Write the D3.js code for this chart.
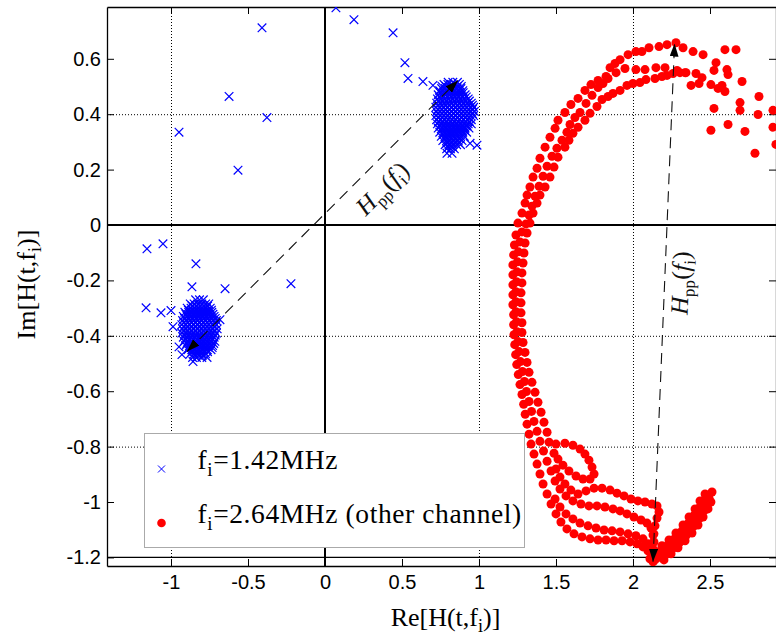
<!DOCTYPE html>
<html>
<head>
<meta charset="utf-8">
<script src="https://cdn.jsdelivr.net/npm/d3@7"></script>
<style>
  body { margin: 0; background: #fff; }
</style>
</head>
<body>
<div id="chart"></div>
<script>
// ticks and grid
const xTicks = [-1, -0.5, 0, 0.5, 1, 1.5, 2, 2.5];
const yTicks = [-1.2, -1, -0.8, -0.6, -0.4, -0.2, 0, 0.2, 0.4, 0.6];
const xGrid = [-1, 1, 2];
const yGrid = [-0.8, -0.4, 0.4];
const xRefLines = [0];
const yRefLines = [0, -1.2];

// f_i = 1.42 MHz : dense blobs, row by row [y, [x...]]
const blueLowRows = [
  [-0.27, [-0.84, -0.815, -0.79]],
  [-0.285, [-0.875, -0.85, -0.825, -0.8, -0.775, -0.755]],
  [-0.30, [-0.895, -0.87, -0.845, -0.82, -0.795, -0.77, -0.745]],
  [-0.315, [-0.91, -0.885, -0.86, -0.835, -0.81, -0.785, -0.76, -0.735]],
  [-0.33, [-0.92, -0.895, -0.87, -0.845, -0.82, -0.795, -0.77, -0.745, -0.72]],
  [-0.345, [-0.925, -0.9, -0.875, -0.85, -0.825, -0.8, -0.775, -0.75, -0.725, -0.705]],
  [-0.36, [-0.93, -0.905, -0.88, -0.855, -0.83, -0.805, -0.78, -0.755, -0.73, -0.705]],
  [-0.375, [-0.925, -0.9, -0.875, -0.85, -0.825, -0.8, -0.775, -0.75, -0.725, -0.7]],
  [-0.39, [-0.93, -0.905, -0.88, -0.855, -0.83, -0.805, -0.78, -0.755, -0.73, -0.705]],
  [-0.405, [-0.92, -0.895, -0.87, -0.845, -0.82, -0.795, -0.77, -0.745, -0.72]],
  [-0.42, [-0.915, -0.89, -0.865, -0.84, -0.815, -0.79, -0.765, -0.74, -0.715]],
  [-0.435, [-0.905, -0.88, -0.855, -0.83, -0.805, -0.78, -0.755, -0.73]],
  [-0.45, [-0.89, -0.865, -0.84, -0.815, -0.79, -0.765, -0.74]],
  [-0.465, [-0.875, -0.85, -0.825, -0.8, -0.775]],
  [-0.478, [-0.86, -0.835, -0.8]]
];
const blueLowMidRows = [
  [-0.2925, [-0.8625, -0.8375, -0.8125, -0.7875, -0.7625]],
  [-0.3075, [-0.8875, -0.8625, -0.8375, -0.8125, -0.7875, -0.7625, -0.7375]],
  [-0.3225, [-0.9025, -0.8775, -0.8525, -0.8275, -0.8025, -0.7775, -0.7525, -0.7275]],
  [-0.3375, [-0.9125, -0.8875, -0.8625, -0.8375, -0.8125, -0.7875, -0.7625, -0.7375, -0.7125]],
  [-0.3525, [-0.9175, -0.8925, -0.8675, -0.8425, -0.8175, -0.7925, -0.7675, -0.7425, -0.7175]],
  [-0.3675, [-0.9175, -0.8925, -0.8675, -0.8425, -0.8175, -0.7925, -0.7675, -0.7425, -0.7175]],
  [-0.3825, [-0.9175, -0.8925, -0.8675, -0.8425, -0.8175, -0.7925, -0.7675, -0.7425, -0.7175]],
  [-0.3975, [-0.9125, -0.8875, -0.8625, -0.8375, -0.8125, -0.7875, -0.7625, -0.7375, -0.7125]],
  [-0.4125, [-0.9075, -0.8825, -0.8575, -0.8325, -0.8075, -0.7825, -0.7575, -0.7325]],
  [-0.4275, [-0.8975, -0.8725, -0.8475, -0.8225, -0.7975, -0.7725, -0.7475, -0.7225]],
  [-0.4425, [-0.8825, -0.8575, -0.8325, -0.8075, -0.7825, -0.7575, -0.7325]],
  [-0.4575, [-0.8625, -0.8375, -0.8125, -0.7875, -0.7625]],
  [-0.4715, [-0.8475, -0.8225, -0.7975]]
];
const blueHighRows = [
  [0.515, [0.8, 0.83, 0.86]],
  [0.50, [0.76, 0.785, 0.81, 0.835, 0.86, 0.885]],
  [0.485, [0.745, 0.77, 0.795, 0.82, 0.845, 0.87, 0.895]],
  [0.47, [0.735, 0.76, 0.785, 0.81, 0.835, 0.86, 0.885, 0.91]],
  [0.455, [0.73, 0.755, 0.78, 0.805, 0.83, 0.855, 0.88, 0.905, 0.93]],
  [0.44, [0.725, 0.75, 0.775, 0.8, 0.825, 0.85, 0.875, 0.9, 0.925, 0.95]],
  [0.425, [0.72, 0.745, 0.77, 0.795, 0.82, 0.845, 0.87, 0.895, 0.92, 0.945, 0.965]],
  [0.41, [0.725, 0.75, 0.775, 0.8, 0.825, 0.85, 0.875, 0.9, 0.925, 0.95, 0.97]],
  [0.395, [0.72, 0.745, 0.77, 0.795, 0.82, 0.845, 0.87, 0.895, 0.92, 0.945, 0.965]],
  [0.38, [0.725, 0.75, 0.775, 0.8, 0.825, 0.85, 0.875, 0.9, 0.925, 0.95]],
  [0.365, [0.73, 0.755, 0.78, 0.805, 0.83, 0.855, 0.88, 0.905, 0.93, 0.95]],
  [0.35, [0.735, 0.76, 0.785, 0.81, 0.835, 0.86, 0.885, 0.91, 0.935]],
  [0.335, [0.745, 0.77, 0.795, 0.82, 0.845, 0.87, 0.895, 0.92]],
  [0.32, [0.755, 0.78, 0.805, 0.83, 0.855, 0.88, 0.905]],
  [0.305, [0.765, 0.79, 0.815, 0.84, 0.865, 0.89]],
  [0.29, [0.78, 0.805, 0.83, 0.855, 0.88]],
  [0.275, [0.79, 0.815, 0.84]]
];
const blueHighMidRows = [
  [0.5075, [0.7725, 0.7975, 0.8225, 0.8475, 0.8725]],
  [0.4925, [0.7575, 0.7825, 0.8075, 0.8325, 0.8575, 0.8825]],
  [0.4775, [0.7475, 0.7725, 0.7975, 0.8225, 0.8475, 0.8725, 0.8975]],
  [0.4625, [0.7425, 0.7675, 0.7925, 0.8175, 0.8425, 0.8675, 0.8925, 0.9175]],
  [0.4475, [0.7375, 0.7625, 0.7875, 0.8125, 0.8375, 0.8625, 0.8875, 0.9125, 0.9375]],
  [0.4325, [0.7325, 0.7575, 0.7825, 0.8075, 0.8325, 0.8575, 0.8825, 0.9075, 0.9325, 0.9575]],
  [0.4175, [0.7325, 0.7575, 0.7825, 0.8075, 0.8325, 0.8575, 0.8825, 0.9075, 0.9325, 0.9575]],
  [0.4025, [0.7325, 0.7575, 0.7825, 0.8075, 0.8325, 0.8575, 0.8825, 0.9075, 0.9325, 0.9575]],
  [0.3875, [0.7375, 0.7625, 0.7875, 0.8125, 0.8375, 0.8625, 0.8875, 0.9125, 0.9375]],
  [0.3725, [0.7375, 0.7625, 0.7875, 0.8125, 0.8375, 0.8625, 0.8875, 0.9125, 0.9375]],
  [0.3575, [0.7475, 0.7725, 0.7975, 0.8225, 0.8475, 0.8725, 0.8975, 0.9225]],
  [0.3425, [0.7575, 0.7825, 0.8075, 0.8325, 0.8575, 0.8825, 0.9075]],
  [0.3275, [0.7675, 0.7925, 0.8175, 0.8425, 0.8675, 0.8925]],
  [0.3125, [0.7775, 0.8025, 0.8275, 0.8525, 0.8775]],
  [0.2975, [0.7925, 0.8175, 0.8425, 0.8675]],
  [0.2825, [0.8025, 0.8275]]
];
const blueStray = [
  [-1.156, -0.086], [-1.052, -0.068], [-0.838, -0.140], [-0.864, -0.223], [-0.649, -0.230],
  [-1.162, -0.299], [-1.065, -0.317], [-1.0, -0.309], [-0.987, -0.367], [-0.221, -0.212],
  [-0.948, -0.44], [-0.929, -0.468], [-0.857, -0.493], [-0.766, -0.478], [-0.682, -0.342],
  [-0.409, 0.712], [-0.623, 0.464], [-0.377, 0.388], [-0.948, 0.335], [-0.565, 0.198],
  [0.071, 0.784], [0.188, 0.741], [0.442, 0.694], [0.519, 0.586], [0.539, 0.529],
  [0.636, 0.518], [0.701, 0.504], [0.987, 0.288], [0.942, 0.295], [0.792, 0.259], [0.825, 0.259]
];

// f_i = 2.64 MHz (other channel)
const redOuterStrand = [
  [2.455, 0.615], [2.390, 0.626], [2.325, 0.640], [2.279, 0.658], [2.221, 0.651], [2.169, 0.644],
  [2.104, 0.640], [2.058, 0.626], [2.019, 0.626], [1.968, 0.615], [1.916, 0.597], [1.883, 0.583],
  [1.851, 0.568], [1.825, 0.536], [1.773, 0.522], [1.727, 0.507], [1.688, 0.486], [1.643, 0.457],
  [1.597, 0.435], [1.558, 0.406], [1.513, 0.378], [1.494, 0.349], [1.461, 0.317], [1.429, 0.281],
  [1.396, 0.241], [1.377, 0.205], [1.351, 0.173], [1.331, 0.137], [1.312, 0.108], [1.299, 0.079],
  [1.279, 0.043], [1.253, 0.007],
  [1.240, -0.036], [1.230, -0.072], [1.225, -0.108], [1.220, -0.144], [1.220, -0.180], [1.220, -0.216],
  [1.220, -0.252], [1.220, -0.288], [1.225, -0.324], [1.225, -0.360], [1.227, -0.396], [1.232, -0.432],
  [1.238, -0.468], [1.245, -0.504], [1.255, -0.540], [1.266, -0.576], [1.279, -0.612], [1.290, -0.647],
  [1.300, -0.683], [1.312, -0.719], [1.325, -0.755], [1.338, -0.791], [1.357, -0.827], [1.377, -0.863],
  [1.396, -0.899], [1.416, -0.935], [1.442, -0.971], [1.468, -1.007], [1.500, -1.043], [1.532, -1.072],
  [1.571, -1.097], [1.617, -1.115], [1.669, -1.126], [1.721, -1.133], [1.773, -1.137], [1.825, -1.137],
  [1.877, -1.140], [1.929, -1.140], [1.981, -1.144], [2.026, -1.151], [2.065, -1.162], [2.097, -1.176],
  [2.123, -1.194], [2.136, -1.212]
];
const redMiddleStrand = [
  [2.448, 0.532], [2.409, 0.547], [2.344, 0.550], [2.286, 0.558], [2.208, 0.568], [2.149, 0.568],
  [2.078, 0.561], [2.019, 0.561], [1.948, 0.565], [1.890, 0.550], [1.838, 0.529], [1.805, 0.511],
  [1.773, 0.496], [1.734, 0.468], [1.695, 0.439], [1.656, 0.406], [1.623, 0.388], [1.591, 0.363],
  [1.571, 0.335], [1.539, 0.306], [1.506, 0.277], [1.474, 0.248], [1.442, 0.212], [1.416, 0.176],
  [1.390, 0.140], [1.364, 0.104], [1.344, 0.068], [1.325, 0.036], [1.305, 0.004],
  [1.279, -0.025], [1.266, -0.061], [1.256, -0.097], [1.250, -0.133], [1.247, -0.169], [1.244, -0.205],
  [1.240, -0.241], [1.240, -0.277], [1.240, -0.313], [1.244, -0.349], [1.247, -0.385], [1.253, -0.421],
  [1.260, -0.457], [1.269, -0.493], [1.282, -0.529], [1.295, -0.565], [1.308, -0.601], [1.325, -0.637],
  [1.341, -0.673], [1.357, -0.709], [1.377, -0.745], [1.396, -0.781], [1.419, -0.816], [1.442, -0.853],
  [1.468, -0.888], [1.494, -0.924], [1.526, -0.953], [1.565, -0.978], [1.610, -0.996], [1.662, -1.007],
  [1.714, -1.014], [1.766, -1.014], [1.818, -1.018], [1.870, -1.025], [1.916, -1.032], [1.961, -1.043],
  [2.006, -1.054], [2.052, -1.065], [2.091, -1.076], [2.117, -1.094], [2.130, -1.119], [2.130, -1.148],
  [2.136, -1.176]
];
const redInnerStrand = [
  [2.338, 0.550], [2.305, 0.550], [2.260, 0.547], [2.221, 0.540], [2.188, 0.536], [2.143, 0.529],
  [2.084, 0.525], [2.045, 0.514], [2.000, 0.511], [1.961, 0.504], [1.916, 0.486], [1.870, 0.475],
  [1.838, 0.464], [1.799, 0.453], [1.766, 0.428], [1.721, 0.403], [1.688, 0.378], [1.643, 0.353],
  [1.610, 0.331], [1.584, 0.306], [1.558, 0.281], [1.513, 0.245], [1.487, 0.209], [1.461, 0.173],
  [1.429, 0.137], [1.396, 0.108], [1.377, 0.079], [1.351, 0.043], [1.331, 0.007],
  [1.312, -0.029], [1.299, -0.065], [1.292, -0.101], [1.286, -0.137], [1.279, -0.173], [1.279, -0.209],
  [1.273, -0.245], [1.273, -0.281], [1.273, -0.317], [1.279, -0.353], [1.279, -0.388], [1.286, -0.424],
  [1.299, -0.460], [1.312, -0.496], [1.325, -0.532], [1.344, -0.568], [1.364, -0.604], [1.383, -0.640],
  [1.403, -0.676], [1.422, -0.712], [1.442, -0.748], [1.455, -0.784],
  [1.500, -0.791], [1.558, -0.788], [1.610, -0.795], [1.656, -0.809], [1.688, -0.827], [1.714, -0.849],
  [1.734, -0.874], [1.747, -0.899], [1.721, -0.917], [1.675, -0.917], [1.630, -0.906], [1.584, -0.888],
  [1.545, -0.867], [1.513, -0.845], [1.487, -0.824],
  [1.500, -0.881], [1.526, -0.910], [1.558, -0.935], [1.597, -0.957], [1.643, -0.971], [1.695, -0.960],
  [1.747, -0.950], [1.799, -0.950], [1.851, -0.957], [1.896, -0.968], [1.942, -0.978], [1.987, -0.989],
  [2.032, -0.996], [2.078, -1.000], [2.123, -1.007], [2.156, -1.014], [2.169, -1.036], [2.156, -1.058],
  [2.143, -1.086], [2.136, -1.115], [2.136, -1.144], [2.136, -1.173], [2.130, -1.198]
];
const redLowerStrand = [
  [1.494, -0.989], [1.526, -1.018], [1.565, -1.043], [1.610, -1.061], [1.656, -1.076], [1.708, -1.086],
  [1.760, -1.094], [1.812, -1.101], [1.864, -1.104], [1.916, -1.108], [1.968, -1.115], [2.019, -1.122],
  [2.065, -1.133], [2.097, -1.151]
];
const redRiseLower = [
  [2.201, -1.209], [2.247, -1.187], [2.292, -1.165], [2.338, -1.140], [2.383, -1.112],
  [2.422, -1.083], [2.455, -1.054], [2.487, -1.025], [2.506, -1.000]
];
const redRiseLowerMid = [
  [2.211, -1.191], [2.256, -1.169], [2.302, -1.146], [2.347, -1.119], [2.390, -1.090],
  [2.429, -1.061], [2.461, -1.032], [2.490, -1.005]
];
const redRiseCenter = [
  [2.175, -1.198], [2.221, -1.173], [2.266, -1.151], [2.312, -1.126], [2.357, -1.097],
  [2.396, -1.068], [2.435, -1.040], [2.468, -1.011], [2.494, -0.986], [2.513, -0.964]
];
const redRiseUpperMid = [
  [2.182, -1.178], [2.227, -1.155], [2.273, -1.131], [2.318, -1.104], [2.360, -1.076],
  [2.399, -1.047], [2.435, -1.018], [2.468, -0.991]
];
const redRiseUpper = [
  [2.143, -1.183], [2.188, -1.158], [2.234, -1.137], [2.279, -1.112], [2.325, -1.083],
  [2.364, -1.054], [2.403, -1.025], [2.435, -0.996], [2.468, -0.971]
];
const redTip = [[2.130, -1.216], [2.110, -1.205], [2.150, -1.205]];
const redScatter = [
  [2.597, 0.633], [2.669, 0.633], [2.539, 0.586], [2.526, 0.558], [2.610, 0.561], [2.617, 0.543],
  [2.708, 0.518], [2.377, 0.504], [2.429, 0.511], [2.506, 0.507], [2.552, 0.493], [2.578, 0.504],
  [2.597, 0.482], [2.818, 0.464], [2.695, 0.442], [2.695, 0.414], [2.526, 0.421], [2.812, 0.399],
  [2.909, 0.414], [2.909, 0.353], [2.928, 0.291], [2.617, 0.363], [2.506, 0.342], [2.727, 0.338],
  [2.792, 0.259]
];

// H_pp annotations
const arrowStart = [[-0.896, -0.457], [2.13, -1.216]];
const arrowEnd = [[0.864, 0.522], [2.27, 0.655]];
const arrowLabelPos = [[0.370, 0.133], [2.305, -0.209]];

const legendLabels = ["=1.42MHz", "=2.64MHz (other channel)"];

const width = 776;
const height = 644;
const margin = {left: 107, right: 0, top: 7, bottom: 78};

const x = d3.scaleLinear().domain([-1.4156, 2.9286]).range([margin.left, width - margin.right]);
const y = d3.scaleLinear().domain([-1.231, 0.787]).range([height - margin.bottom, margin.top]);

const serif = "'Liberation Serif', 'Times New Roman', serif";
const sans = "'Liberation Sans', Arial, Helvetica, sans-serif";

const svg = d3.select("#chart").append("svg")
    .attr("width", width)
    .attr("height", height);

const defs = svg.append("defs");
defs.append("clipPath").attr("id", "plotClip")
    .append("rect")
    .attr("x", x.range()[0]).attr("y", y.range()[1])
    .attr("width", x.range()[1] - x.range()[0])
    .attr("height", y.range()[0] - y.range()[1]);

defs.append("marker")
    .attr("id", "arrowHead")
    .attr("viewBox", "0 0 10 10")
    .attr("refX", 10).attr("refY", 5)
    .attr("markerUnits", "userSpaceOnUse")
    .attr("markerWidth", 13).attr("markerHeight", 9)
    .attr("preserveAspectRatio", "none")
    .attr("orient", "auto-start-reverse")
    .append("path")
    .attr("d", "M0,0L10,5L0,10Z")
    .attr("fill", "#000");

// dotted grid
svg.append("g").selectAll("line")
    .data(xGrid).enter().append("line")
    .attr("x1", d => x(d) + 0.5).attr("x2", d => x(d) + 0.5)
    .attr("y1", y.range()[1]).attr("y2", y.range()[0])
    .attr("stroke", "#000").attr("stroke-dasharray", "1,2");
svg.append("g").selectAll("line")
    .data(yGrid).enter().append("line")
    .attr("x1", x.range()[0]).attr("x2", x.range()[1])
    .attr("y1", d => y(d) + 0.5).attr("y2", d => y(d) + 0.5)
    .attr("stroke", "#000").attr("stroke-dasharray", "1,2");

// solid reference lines
svg.append("g").selectAll("line")
    .data(xRefLines).enter().append("line")
    .attr("x1", d => x(d)).attr("x2", d => x(d))
    .attr("y1", y.range()[1]).attr("y2", y.range()[0])
    .attr("stroke", "#000").attr("stroke-width", 2);
svg.append("g").selectAll("line")
    .data(yRefLines).enter().append("line")
    .attr("x1", x.range()[0]).attr("x2", x.range()[1])
    .attr("y1", d => y(d)).attr("y2", d => y(d))
    .attr("stroke", "#000").attr("stroke-width", d => d === 0 ? 2.2 : 1.4);

// axes, ticks pointing inwards
const fmt = d => String(d);
function styleAxis(g) {
    g.attr("font-size", 20).attr("font-family", sans);
    g.selectAll(".domain").attr("stroke", "#000").attr("stroke-width", 1.3);
    g.selectAll(".tick line").attr("stroke", "#000");
    g.selectAll(".tick text").attr("fill", "#000");
}
svg.append("g")
    .attr("transform", `translate(0,${y.range()[0]})`)
    .call(d3.axisBottom(x).tickValues(xTicks).tickSize(-7).tickSizeOuter(0).tickPadding(9).tickFormat(fmt))
    .call(styleAxis);
svg.append("g")
    .attr("transform", `translate(0,${y.range()[1]})`)
    .call(d3.axisTop(x).tickValues(xTicks).tickSize(-7).tickSizeOuter(0).tickFormat(""))
    .call(styleAxis);
svg.append("g")
    .attr("transform", `translate(${x.range()[0]},0)`)
    .call(d3.axisLeft(y).tickValues(yTicks).tickSize(-7).tickSizeOuter(0).tickPadding(6).tickFormat(fmt))
    .call(styleAxis);
svg.append("g")
    .attr("transform", `translate(${x.range()[1]},0)`)
    .call(d3.axisRight(y).tickValues(yTicks).tickSize(-7).tickSizeOuter(0).tickFormat(""))
    .call(styleAxis);

// data
const rows = r => r.flatMap(([yy, xs]) => xs.map(xx => [xx, yy]));
const bluePoints = [].concat(rows(blueLowRows), rows(blueLowMidRows),
    rows(blueHighRows), rows(blueHighMidRows), blueStray);
const redPoints = [].concat(redOuterStrand, redMiddleStrand, redInnerStrand, redLowerStrand,
    redRiseLower, redRiseLowerMid, redRiseCenter, redRiseUpperMid, redRiseUpper, redTip, redScatter);

const crossShape = d3.symbolTimes ? d3.symbol(d3.symbolTimes, 50)() : "M-4.3,-4.3L4.3,4.3M-4.3,4.3L4.3,-4.3";

const plot = svg.append("g").attr("clip-path", "url(#plotClip)");

plot.append("g").selectAll("path")
    .data(bluePoints).enter().append("path")
    .attr("transform", d => `translate(${x(d[0])},${y(d[1])})`)
    .attr("d", crossShape)
    .attr("fill", "none")
    .attr("stroke", "#0000ff")
    .attr("stroke-width", 1.2);

plot.append("g").selectAll("circle")
    .data(redPoints).enter().append("circle")
    .attr("cx", d => x(d[0]))
    .attr("cy", d => y(d[1]))
    .attr("r", 4.5)
    .attr("fill", "#ff0000");

// H_pp arrows
const arrows = arrowStart.map((s, i) => ({s: s, e: arrowEnd[i], p: arrowLabelPos[i]}));
svg.append("g").selectAll("line")
    .data(arrows).enter().append("line")
    .attr("x1", d => x(d.s[0])).attr("y1", d => y(d.s[1]))
    .attr("x2", d => x(d.e[0])).attr("y2", d => y(d.e[1]))
    .attr("stroke", "#111")
    .attr("stroke-width", 1.1)
    .attr("stroke-dasharray", "11,7")
    .attr("marker-start", "url(#arrowHead)")
    .attr("marker-end", "url(#arrowHead)");

const hpp = svg.append("g").selectAll("text")
    .data(arrows).enter().append("text")
    .attr("transform", d => {
        const ang = Math.atan2(y(d.e[1]) - y(d.s[1]), x(d.e[0]) - x(d.s[0])) * 180 / Math.PI;
        return `translate(${x(d.p[0])},${y(d.p[1])}) rotate(${ang})`;
    })
    .attr("text-anchor", "middle")
    .attr("dy", "0.35em")
    .attr("font-family", serif)
    .attr("font-size", 25)
    .attr("fill", "#111");
hpp.append("tspan").attr("font-style", "italic").text("H");
hpp.append("tspan").attr("font-size", 17).attr("dy", 6).text("pp");
hpp.append("tspan").attr("dy", -6).text("(");
hpp.append("tspan").attr("font-style", "italic").text("f");
hpp.append("tspan").attr("font-size", 17).attr("dy", 6).text("i");
hpp.append("tspan").attr("dy", -6).text(")");

// axis titles
function subLabel(g, pre, post, size) {
    const t = g.append("text")
        .attr("text-anchor", "middle")
        .attr("font-family", serif)
        .attr("font-size", size)
        .attr("fill", "#000");
    t.append("tspan").text(pre);
    t.append("tspan").attr("font-size", size * 0.7).attr("dy", size * 0.22).text("i");
    t.append("tspan").attr("dy", -size * 0.22).text(post);
    return t;
}
subLabel(svg, "Re[H(t,f", ")]", 26)
    .attr("x", (x.range()[0] + x.range()[1]) / 2 + 4)
    .attr("y", 626);
subLabel(svg, "Im[H(t,f", ")]", 26)
    .attr("transform", `translate(35,${(y.range()[0] + y.range()[1]) / 2 - 2}) rotate(-90)`);

// legend
const legend = svg.append("g").attr("transform", "translate(144.5,433.5)");
legend.append("rect")
    .attr("width", 380).attr("height", 114)
    .attr("fill", "#fff").attr("stroke", "#aaa").attr("stroke-width", 1);
const entries = legend.selectAll("g.entry")
    .data(legendLabels).enter().append("g")
    .attr("class", "entry")
    .attr("transform", (d, i) => `translate(0,${35.5 + i * 54})`);
entries.filter((d, i) => i === 0).append("path")
    .attr("transform", "translate(17,0)")
    .attr("d", d3.symbolTimes ? d3.symbol(d3.symbolTimes, 34)() : crossShape)
    .attr("fill", "none").attr("stroke", "#0000ff").attr("stroke-width", 1);
entries.filter((d, i) => i === 1).append("circle")
    .attr("cx", 17).attr("r", 4.3).attr("fill", "#ff0000");
const lt = entries.append("text")
    .attr("x", 53)
    .attr("font-family", serif)
    .attr("font-size", 27.5)
    .attr("letter-spacing", 0.6)
    .attr("fill", "#000");
lt.append("tspan").text("f");
lt.append("tspan").attr("font-size", 19).attr("dy", 7).text("i");
lt.append("tspan").attr("dy", -7).text(d => d);
</script>
</body>
</html>
